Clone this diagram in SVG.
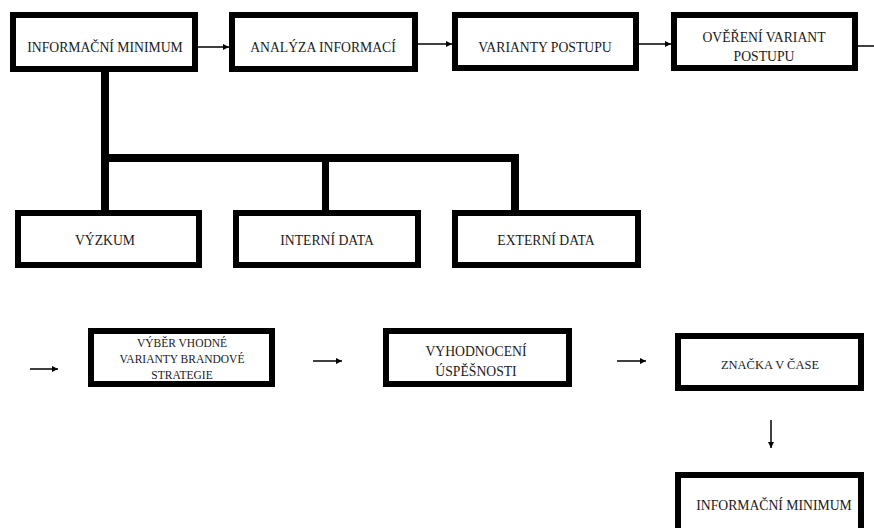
<svg xmlns="http://www.w3.org/2000/svg" width="874" height="528" viewBox="0 0 874 528">
<defs>
<marker id="ah" viewBox="0 0 6 6" refX="6" refY="3" markerWidth="6" markerHeight="6" markerUnits="userSpaceOnUse" orient="auto">
<path d="M0,0 L6,3 L0,6 z" fill="#000"/>
</marker>
<style>
.box{fill:#fff;stroke:#000;stroke-width:6}
.t{font-family:"Liberation Serif","Times New Roman",serif;font-size:13.7px;fill:#1a1a1a;text-anchor:middle}
.s{font-size:11.5px}
.m{font-size:12.5px}
.c{stroke:#000;stroke-width:1.5;fill:none}
.bar{fill:#000}
</style>
</defs>
<rect width="874" height="528" fill="#fff"/>
<g id="connectors">
<line class="c" x1="198" y1="47" x2="229" y2="47" marker-end="url(#ah)"/>
<line class="c" x1="418" y1="44" x2="452" y2="44" marker-end="url(#ah)"/>
<line class="c" x1="639" y1="44" x2="671" y2="44" marker-end="url(#ah)"/>
<line class="c" x1="858" y1="46" x2="874" y2="46"/>
<rect class="bar" x="101" y="72" width="8" height="138"/>
<rect class="bar" x="101" y="154" width="418" height="8"/>
<rect class="bar" x="322" y="162" width="7" height="48"/>
<rect class="bar" x="511" y="162" width="8" height="48"/>
<line class="c" x1="30" y1="369" x2="58" y2="369" marker-end="url(#ah)"/>
<line class="c" x1="313" y1="361" x2="342" y2="361" marker-end="url(#ah)"/>
<line class="c" x1="617" y1="361" x2="646" y2="361" marker-end="url(#ah)"/>
<line class="c" x1="771" y1="420" x2="771" y2="448" marker-end="url(#ah)"/>
</g>
<g id="n1"><rect class="box" x="13" y="15" width="182" height="54"/><text class="t" x="105" y="52">INFORMAČNÍ MINIMUM</text></g>
<g id="n2"><rect class="box" x="232" y="15" width="183" height="54"/><text class="t" x="323" y="52">ANALÝZA INFORMACÍ</text></g>
<g id="n3"><rect class="box" x="455" y="15" width="181" height="53"/><text class="t" x="545" y="52">VARIANTY POSTUPU</text></g>
<g id="n4"><rect class="box" x="674" y="15" width="181" height="53"/><text class="t" x="764" y="42">OVĚŘENÍ VARIANT</text><text class="t" x="764" y="61">POSTUPU</text></g>
<g id="n5"><rect class="box" x="18" y="213" width="181" height="52"/><text class="t" x="105" y="245">VÝZKUM</text></g>
<g id="n6"><rect class="box" x="236" y="213" width="182" height="52"/><text class="t" x="327" y="245">INTERNÍ DATA</text></g>
<g id="n7"><rect class="box" x="455" y="213" width="183" height="52"/><text class="t" x="546" y="245">EXTERNÍ DATA</text></g>
<g id="n8"><rect class="box" x="91" y="331" width="181" height="53"/><text class="t s" x="182" y="347">VÝBĚR VHODNÉ</text><text class="t s" x="182" y="363">VARIANTY BRANDOVÉ</text><text class="t s" x="182" y="379">STRATEGIE</text></g>
<g id="n9"><rect class="box" x="386" y="331" width="183" height="53"/><text class="t" x="476" y="356">VYHODNOCENÍ</text><text class="t" x="476" y="376">ÚSPĚŠNOSTI</text></g>
<g id="n10"><rect class="box" x="678" y="336" width="183" height="52"/><text class="t m" x="770" y="369">ZNAČKA V ČASE</text></g>
<g id="n11"><rect class="box" x="678" y="475" width="183" height="60"/><text class="t" x="774" y="510">INFORMAČNÍ MINIMUM</text></g>
</svg>
